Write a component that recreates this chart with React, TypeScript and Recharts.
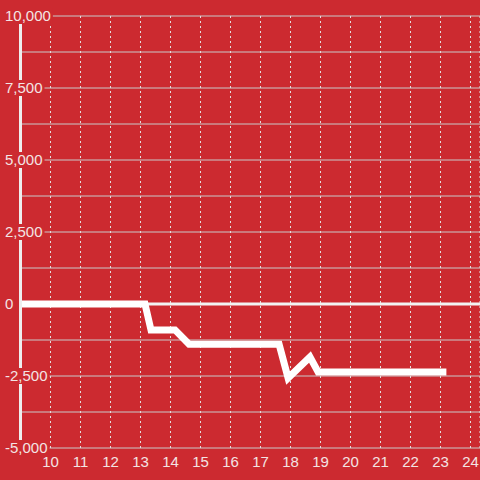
import { CartesianGrid, Line, LineChart, ReferenceLine, XAxis, YAxis } from 'recharts';

const xValues = [9, 13.15, 13.35, 14.15, 14.62, 17.62, 17.92, 18.65, 18.92, 23.08];
const balance = [0, 0, -900, -900, -1400, -1400, -2570, -1840, -2360, -2360];
const xTicks = [10, 11, 12, 13, 14, 15, 16, 17, 18, 19, 20, 21, 22, 23, 24];
const yTicks = [-5000, -3750, -2500, -1250, 0, 1250, 2500, 3750, 5000, 6250, 7500, 8750, 10000];

const data = xValues.map((x, i) => ({ x, v: balance[i] }));

const BG = '#cc2a30';
const TEXT = '#f3e4e4';
const FONT = '"Liberation Sans", Arial, sans-serif';

const textWidth = (s: string) =>
  s.split('').reduce((a, c) => a + (c === ',' ? 4.17 : c === '-' ? 5 : 8.34), 0);

const YTick = (props: any) => {
  const { y, payload } = props;
  const v = payload.value as number;
  if (v % 2500 !== 0) return <g />;
  const label = v.toLocaleString('en-US');
  const w = textWidth(label);
  return (
    <g>
      <rect x={3} y={y - 8} width={w + 4} height={16} fill={BG} />
      <text x={5} y={y} dy='0.36em' textAnchor='start' fill={TEXT} fontSize={15} fontFamily={FONT}>
        {label}
      </text>
    </g>
  );
};

const App = () => {
  return (
    <div style={{ position: 'absolute', left: 0, top: 0, width: 480, height: 480, background: BG }}>
      <LineChart width={480} height={480} data={data} margin={{ top: 16, right: 0, bottom: 2, left: 0 }}>
        <CartesianGrid vertical={false} stroke='#c9c9c9' />
        <CartesianGrid horizontal={false} stroke='#e2e2e2' strokeDasharray='2 3' />
        <XAxis
          type='number'
          dataKey='x'
          domain={[9, 24.317]}
          ticks={xTicks}
          allowDataOverflow
          axisLine={false}
          tickLine={false}
          height={30}
          tick={{ fill: TEXT, fontSize: 15, fontFamily: FONT }}
        />
        <YAxis
          domain={[-5000, 10000]}
          ticks={yTicks}
          width={20.5}
          interval={0}
          axisLine={{ stroke: '#eeeeee', strokeWidth: 3 }}
          tickLine={false}
          tick={<YTick />}
        />
        <ReferenceLine y={0} stroke='#f2f2f2' strokeWidth={3} />
        <Line
          type='linear'
          dataKey='v'
          stroke='#ffffff'
          strokeWidth={7}
          strokeLinecap='square'
          strokeLinejoin='miter'
          dot={false}
          activeDot={false}
          isAnimationActive={false}
        />
      </LineChart>
    </div>
  );
};

export default App;
